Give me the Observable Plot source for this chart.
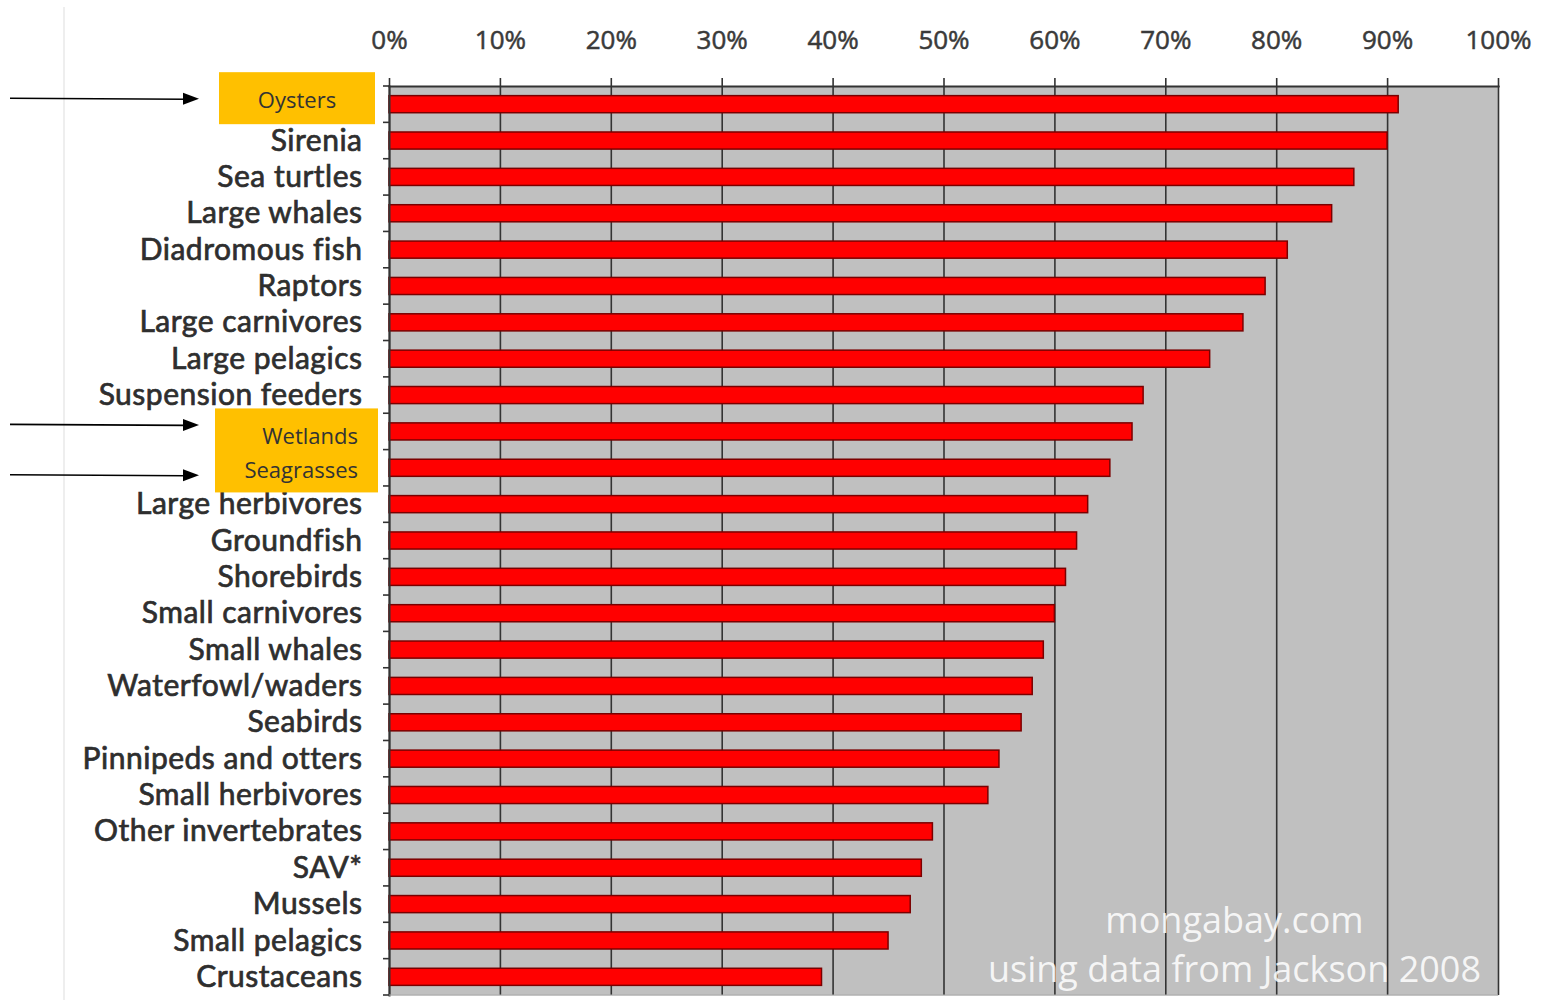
<!DOCTYPE html>
<html>
<head>
<meta charset="utf-8">
<script src="https://cdn.jsdelivr.net/npm/d3@7"></script>
<script src="https://cdn.jsdelivr.net/npm/@observablehq/plot@0.6"></script>
<style>
  html, body { margin: 0; padding: 0; background: #fff; }
  #chart { width: 1541px; height: 1000px; overflow: hidden; }
  g[aria-label="y-axis tick label"] text { paint-order: stroke; stroke: #2e2e2e; stroke-width: 0.7px; letter-spacing: 0.5px; }
  g[aria-label="x-axis tick label"] text { paint-order: stroke; stroke: #333; stroke-width: 0.5px; }
</style>
</head>
<body>
<div id="chart"></div>
<script>
const categories = [
  "Oysters", "Sirenia", "Sea turtles", "Large whales", "Diadromous fish", "Raptors",
  "Large carnivores", "Large pelagics", "Suspension feeders", "Wetlands", "Seagrasses",
  "Large herbivores", "Groundfish", "Shorebirds", "Small carnivores", "Small whales",
  "Waterfowl/waders", "Seabirds", "Pinnipeds and otters", "Small herbivores",
  "Other invertebrates", "SAV*", "Mussels", "Small pelagics", "Crustaceans"
];
const values = [
  0.91, 0.90, 0.87, 0.85, 0.81, 0.79, 0.77, 0.74, 0.68, 0.67, 0.65,
  0.63, 0.62, 0.61, 0.60, 0.59, 0.58, 0.57, 0.55, 0.54,
  0.49, 0.48, 0.47, 0.45, 0.39
];
const xTicks = [0, 0.1, 0.2, 0.3, 0.4, 0.5, 0.6, 0.7, 0.8, 0.9, 1.0];
const highlighted = ["Oysters", "Wetlands", "Seagrasses"];
const credit = ["mongabay.com", "using data from Jackson 2008"];

const data = categories.map((c, i) => ({category: c, value: values[i]}));
const FONT = "'Open Sans', Lato, sans-serif";
const LABEL_FONT = "Lato, 'Open Sans', sans-serif";
const M_TOP = 86, M_BOTTOM = 5;

const plot = Plot.plot({
  width: 1541,
  height: 1000,
  marginLeft: 389,
  marginRight: 43,
  marginTop: M_TOP,
  marginBottom: M_BOTTOM,
  style: {fontFamily: FONT, background: "#fff", overflow: "visible"},
  x: {domain: [0, 1], ticks: xTicks, label: null},
  y: {domain: categories, paddingInner: 0.53, paddingOuter: 0.265, align: 0.5, round: false, label: null},
  marks: [
    Plot.frame({fill: "#c0c0c0", stroke: null}),
    Plot.gridX(xTicks, {stroke: "#333", strokeOpacity: 1, strokeWidth: 1.6}),
    Plot.barX(data, {x: "value", y: "category", fill: "#ff0000", stroke: "#7a0000", strokeWidth: 1.5}),
    Plot.axisX({
      anchor: "top", ticks: xTicks, tickFormat: d3.format(".0%"), label: null,
      tickSize: 9, tickPadding: 29, fontSize: 26, fill: "#3a3a3a", stroke: "#333", strokeWidth: 1.6
    }),
    Plot.frame({anchor: "top", stroke: "#333", strokeWidth: 2.2}),
    Plot.frame({anchor: "left", stroke: "#333", strokeWidth: 2}),
    Plot.axisY({
      tickSize: 0, tickPadding: 27, fontSize: 30, fontFamily: LABEL_FONT, fill: "#2e2e2e", label: null,
      tickFormat: d => highlighted.includes(d) ? "" : d
    }),
    Plot.text([credit.join("\n")], {
      frameAnchor: "bottom-right", text: d => d,
      dx: -264, dy: -14, lineAnchor: "bottom", lineHeight: 1.36,
      fill: "#fff", fillOpacity: 0.85, fontSize: 36, textAnchor: "middle"
    })
  ]
});

document.getElementById("chart").appendChild(plot);

// Post-render decorations positioned from the plot's own scales
const svg = d3.select(plot);
const ys = plot.scale("y");
const xs = plot.scale("x");
const bw = ys.bandwidth;
const step = ys.step;
const center = c => ys.apply(c) + bw / 2;
const x0 = xs.apply(0);
const yBottom = 1000 - M_BOTTOM;

const g = svg.append("g");
for (let k = 0; k <= categories.length; k++) {
  const yy = ys.apply(categories[0]) - (step - bw) / 2 + k * step;
  g.append("line").attr("x1", x0 - 6).attr("x2", x0).attr("y1", yy).attr("y2", yy)
    .attr("stroke", "#333").attr("stroke-width", 1.6);
}
g.append("line").attr("x1", x0).attr("x2", xs.apply(1)).attr("y1", yBottom).attr("y2", yBottom)
  .attr("stroke", "#aaa").attr("stroke-width", 1);

// faint page line
g.append("line").attr("x1", 64).attr("x2", 64).attr("y1", 7).attr("y2", 1000)
  .attr("stroke", "#e3e3e3").attr("stroke-width", 1.2);

// highlight boxes
const cO = center("Oysters"), cW = center("Wetlands"), cS = center("Seagrasses");
g.append("rect").attr("x", x0 - 170).attr("y", cO - 32).attr("width", 156).attr("height", 52)
  .attr("fill", "#ffc000");
g.append("text").attr("x", x0 - 92).attr("y", cO - 5).attr("text-anchor", "middle")
  .attr("dominant-baseline", "central").attr("font-size", 22).attr("fill", "#333")
  .attr("font-family", FONT).text("Oysters");
g.append("rect").attr("x", x0 - 174).attr("y", cW - 23).attr("width", 163).attr("height", 84)
  .attr("fill", "#ffc000");
g.append("text").attr("x", x0 - 31).attr("y", cW + 4).attr("text-anchor", "end")
  .attr("dominant-baseline", "central").attr("font-size", 22).attr("fill", "#333")
  .attr("font-family", FONT).text("Wetlands");
g.append("text").attr("x", x0 - 31).attr("y", cS + 1).attr("text-anchor", "end")
  .attr("dominant-baseline", "central").attr("font-size", 22).attr("fill", "#333")
  .attr("font-family", FONT).text("Seagrasses");

// arrows
const arrow = (yy) => {
  g.append("line").attr("x1", 10).attr("x2", 186).attr("y1", yy).attr("y2", yy + 1)
    .attr("stroke", "#000").attr("stroke-width", 1.6);
  g.append("path").attr("d", `M183,${yy - 5.5} L199,${yy + 0.5} L183,${yy + 6.5} Z`).attr("fill", "#000");
};
arrow(cO - 6);
arrow(cW - 7);
arrow(cS + 7);
</script>
</body>
</html>
